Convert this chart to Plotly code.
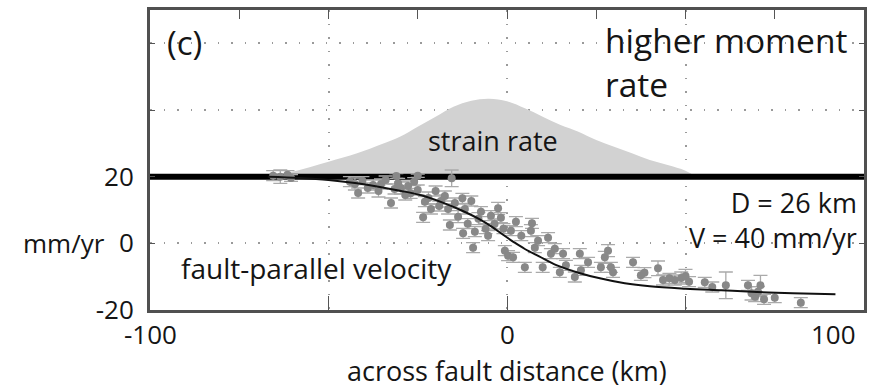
import plotly.graph_objects as go

# ---------------- data ----------------
# strain-rate profile (drawn above the baseline at 20 mm/yr)
strain_x = [-67, -60, -50, -42, -35, -30, -25, -20, -15, -10, -5, 0, 5, 10, 15, 20, 25, 30, 35, 40, 45, 50, 53]
strain_y = [20, 21.5, 24.5, 27, 29.8, 32, 35, 38, 41, 42.8, 43.4, 42.6, 40.5, 38, 35.5, 33.5, 31, 29, 27, 25, 23.5, 21.8, 20]
baseline_y = 20

# model curve (D = 26 km, V = 40 mm/yr)
model_x = [-67, -58, -50, -42, -36, -30, -24, -18, -13, -8, -4, -1, 2, 5, 9, 14, 20, 26, 33, 40, 50, 60, 70, 80, 92]
model_y = [20, 19.6, 19, 18, 17, 15.8, 14.4, 12.2, 10, 7.4, 4.8, 2.5, 0.3, -1.7, -3.9, -6.6, -8.8, -10.5, -12, -12.9, -13.6, -14.1, -14.6, -15, -15.3]

# observed fault-parallel velocities with 1-sigma errors
obs_x = [-65.5, -63.5, -61.5, -60.5, -31, -25, -15.5,
         -44, -42.6, -41.7, -40.5, -39, -37.5, -36, -35.3, -34, -32.5, -31.5, -30.5, -29.7,
         -28.5, -27.7, -27, -26, -25,
         -23.5, -23, -22, -21.3, -20, -19, -18.5, -17.4, -16.5, -16, -14.6, -13.7, -12.5, -12.3,
         -11.8, -11, -10, -9.5, -9, -8, -7.3, -6, -5.3, -4.5, -3.5, -2.5, -1.7, -1, -0.6, 0.3,
         1.1, 1.7, 2.5, 4, 5, 6.7, 7, 7.8, 8.7, 10, 11.5, 12.3, 13.4, 14.8, 15.7, 16.5, 19, 20.4,
         20.7, 22.7, 26.3, 27.4, 28.3, 29.1, 29.7, 35.3, 37.5, 38.5, 42.3, 43.7, 45.5, 47, 48.8,
         50, 51, 55.4, 57.5, 61.3, 67.5, 68.5, 69.5, 70.3, 71, 72, 75, 82.3]
obs_y = [20.3, 20.0, 20.6, 19.6, 20.2, 20.3, 19.5,
         18.5, 17.8, 15.1, 18.8, 16.6, 17.5, 15.7, 17.8, 19, 12.1, 16.3, 18, 16.6,
         14.5, 17.2, 15, 18.5, 16,
         7.8, 12.5, 13.6, 10.3, 15.7, 11.2, 12.7, 14.2, 10.3, 5.5, 12.1, 8, 13.5, 3,
         10.3, 5.9, 12.7, -1.3, 3.5, 7.4, 9.5, 4.4, 2.3, 8.3, 5.8, 10.5, 7.7, 4.4, -2.2, -3.7,
         3.8, -4.2, 6.5, 2.3, -7.2, 3.8, 6, -1.3, 0.8, -7.2, 1.7, -3.1, -1.6, -8.7, -3.1, -6.6, -10.1, -3.1,
         -8.1, -5.7, -7.2, -4.2, -2.2, -7.2, -8.7, -5.7, -9.6, -8.8, -7.5, -11, -10.5, -11, -10.4,
         -9.8, -11.5, -11.7, -13.1, -12.6, -12.6, -15, -16, -14.5, -12.6, -16.8, -16.3, -17.8]
obs_err = [1.5, 2.0, 1.2, 1.0, 0.7, 0.5, 2.5,
           1.5, 1.8, 1.5, 1.2, 1.5, 1.5, 1.8, 1.5, 1.2, 1.5, 1.5, 1.5, 1.8,
           1.5, 1.5, 1.5, 1.2, 1.5,
           1.5, 1.5, 1.8, 1.5, 1.5, 1.5, 1.8, 1.5, 1.5, 1.5, 1.5, 1.8, 1.5, 1.5,
           1.5, 1.5, 1.5, 1.5, 1.5, 1.8, 1.5, 1.5, 1.5, 1.5, 1.5, 1.8, 1.5, 1.5, 1.5, 1.5,
           1.5, 1.5, 1.5, 1.5, 1.5, 1.8, 1.5, 1.5, 1.5, 1.5, 1.5, 1.5, 1.5, 1.5, 1.5, 1.5, 1.5, 1.5,
           1.5, 1.5, 1.5, 1.8, 1.8, 1.5, 1.5, 1.5, 1.5, 1.5, 2.2, 1.5, 1.5, 1.5, 1.8,
           2.0, 1.5, 1.5, 1.5, 4.0, 1.5, 2.0, 1.5, 1.5, 3.0, 1.5, 1.5, 1.5]

x_tick_vals = [-100, 0, 100]
x_tick_text = ["-100", "0", "100"]
y_tick_vals = [-20, 0, 20, 40, 60]
y_tick_text = ["-20", "0", "20", "", ""]
top_tick_vals = [-75, -50, -25, 0, 25, 50, 75]

FONT = "Open Sans"
TXT = "#151515"

fig = go.Figure()

# strain rate fill
fig.add_trace(go.Scatter(x=strain_x, y=strain_y, mode="lines", fill="toself",
                         fillcolor="#d2d2d2", line=dict(color="#d2d2d2", width=0, shape="spline"),
                         hoverinfo="skip", showlegend=False))
# thick baseline
fig.add_trace(go.Scatter(x=[-100, 100], y=[baseline_y, baseline_y], mode="lines",
                         line=dict(color="black", width=6), showlegend=False, hoverinfo="skip"))
# observations
fig.add_trace(go.Scatter(x=obs_x, y=obs_y, mode="markers",
                         marker=dict(color="#888888", size=8),
                         error_y=dict(type="data", array=obs_err, color="#aaaaaa", thickness=1.3, width=7),
                         showlegend=False))
# model curve
fig.add_trace(go.Scatter(x=model_x, y=model_y, mode="lines",
                         line=dict(color="#111111", width=2, shape="spline"), showlegend=False))
# invisible trace for top axis
fig.add_trace(go.Scatter(x=[-100, 100], y=[None, None], xaxis="x2", mode="lines",
                         showlegend=False, hoverinfo="skip"))

gridcol = "#9a9a9a"
fig.update_layout(
    width=874, height=389,
    margin=dict(l=150, r=8, t=7, b=79),
    paper_bgcolor="white", plot_bgcolor="white",
    font=dict(family=FONT, size=26, color=TXT),
    xaxis=dict(range=[-100, 100], tickvals=[-50, 0, 50], showticklabels=False,
               ticks="inside", ticklen=14, tickcolor="#555", tickwidth=1,
               showgrid=True, gridcolor=gridcol, gridwidth=1.5, griddash="1.5px,12px",
               showline=True, linecolor="#505050", linewidth=3, mirror=True, zeroline=False),
    xaxis2=dict(range=[-100, 100], overlaying="x", side="top", tickvals=top_tick_vals,
                showticklabels=False, ticks="inside", ticklen=9, tickcolor="#555", tickwidth=1,
                showgrid=False, showline=False, zeroline=False),
    yaxis=dict(range=[-20, 70], tickvals=y_tick_vals, ticktext=y_tick_text,
               ticks="inside", ticklen=5, tickcolor="#555", tickwidth=1,
               tickfont=dict(size=26, color=TXT), ticklabelstandoff=8,
               showgrid=True, gridcolor=gridcol, gridwidth=1.5, griddash="1.5px,12px",
               showline=True, linecolor="#505050", linewidth=3, mirror="ticks", zeroline=False),
)

ann = []
# x tick labels
for v, t in zip(x_tick_vals, x_tick_text):
    anchor = "center" if v != 100 else "right"
    ann.append(dict(x=v, y=-0.08, xref="x", yref="paper", text=t, showarrow=False,
                    xanchor=anchor, yanchor="middle", xshift=(-6 if v == 100 else 0),
                    font=dict(size=26, color=TXT)))
ann += [
    dict(x=0.5, y=-0.203, xref="paper", yref="paper", text="across fault distance (km)",
         showarrow=False, xanchor="center", yanchor="middle", font=dict(size=27, color=TXT)),
    dict(x=0, y=0, xref="paper", yref="y", text="mm/yr", showarrow=False,
         xanchor="right", yanchor="middle", xshift=-43, font=dict(size=26, color=TXT)),
    dict(x=-90.2, y=60.4, xref="x", yref="y", text="(c)", showarrow=False,
         xanchor="center", yanchor="middle", font=dict(size=33, color=TXT)),
    dict(x=27, y=68.5, xref="x", yref="y", text="higher moment<br>rate", showarrow=False,
         xanchor="left", yanchor="top", align="left", font=dict(size=33.5, color=TXT)),
    dict(x=-3.8, y=30.8, xref="x", yref="y", text="strain rate", showarrow=False,
         xanchor="center", yanchor="middle", font=dict(size=27, color=TXT)),
    dict(x=-53.3, y=-7.5, xref="x", yref="y", text="fault-parallel velocity", showarrow=False,
         xanchor="center", yanchor="middle", font=dict(size=28, color=TXT)),
    dict(x=98.5, y=7.0, xref="x", yref="y", text="D = 26 km<br>V = 40 mm/yr", showarrow=False,
         xanchor="right", yanchor="middle", align="right", font=dict(size=27, color=TXT)),
]
fig.update_layout(annotations=ann)

fig.write_html("out.html")
